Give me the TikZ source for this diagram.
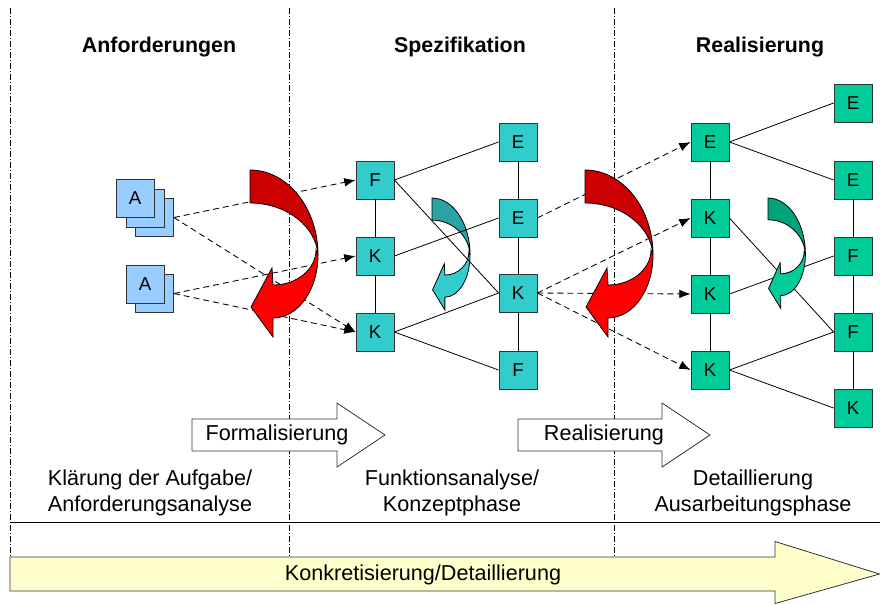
\documentclass[tikz,border=0pt]{standalone}
\usepackage{fontspec}
\setmainfont{Liberation Sans}
\usetikzlibrary{arrows.meta}
\definecolor{reqblue}{HTML}{99CCFF}
\definecolor{specteal}{HTML}{33CCCC}
\definecolor{tealback}{HTML}{29A3A3}
\definecolor{realgreen}{HTML}{00CC99}
\definecolor{greenback}{HTML}{00A37A}
\definecolor{curlback}{HTML}{CC0000}
\definecolor{curlfront}{HTML}{FF0000}
\definecolor{concyellow}{HTML}{FFFFCC}

\begin{document}
\begin{tikzpicture}[x=0.75pt, y=-0.75pt,
    box/.style={rectangle, draw=black!80, line width=0.6pt, minimum size=28.5pt, inner sep=0,
      font=\fontsize{14}{16}\selectfont},
    req/.style={box, fill=reqblue},
    spec/.style={box, fill=specteal},
    real/.style={box, fill=realgreen},
    link/.style={line width=0.6pt},
    flow/.style={line width=0.65pt, dash pattern=on 4.5pt off 3pt, -{Latex[length=8.5pt,width=6.5pt]}},
    border/.style={line width=0.4pt, dash pattern=on 4.5pt off 1.5pt on 0.75pt off 1.5pt},
    blockarrow/.style={draw=black!80, line width=0.6pt},
    title/.style={font=\fontsize{16}{19}\selectfont\bfseries},
    phase/.style={font=\fontsize{16.2}{19.5}\selectfont, align=center},
    pics/curl/.style 2 args={code={
      \filldraw[fill=#1, draw=black, line width=0.6pt] (0,0) .. controls (37.5,0) and (68,38) .. (68,85)
        .. controls (66,56) and (36,33) .. (0,33) -- cycle;
      \filldraw[fill=#2, draw=black, line width=0.6pt] (68,85) .. controls (68,120) and (48,148) .. (23,148)
        -- (23,167) -- (1,137) -- (22,98) -- (23,115) .. controls (47,115) and (66,99) .. (66,80) -- cycle;
    }}
  ]
  \useasboundingbox (0,0) rectangle (880,604);

  % phase borders
  \draw[border] (10,8) -- (10,557);
  \draw[border] (289,8) -- (289,557);
  \draw[border] (614,8) -- (614,557);
  \draw[line width=0.6pt] (10,522) -- (880,522);

  \node[title] (treq) at (159,47) {Anforderungen};
  \node[title] (tspec) at (460,47) {Spezifikation};
  \node[title] (treal) at (760,47) {Realisierung};

  \node[phase] (preq) at (150,493) {Klärung der Aufgabe/\\Anforderungsanalyse};
  \node[phase] (pspec) at (452,493) {Funktionsanalyse/\\Konzeptphase};
  \node[phase] (preal) at (753,493) {Detaillierung\\Ausarbeitungsphase};

  % block arrows
  \filldraw[blockarrow, fill=white] (192,419) -- (337,419) -- (337,403) -- (385,435)
    -- (337,467) -- (337,451) -- (192,451) -- cycle;
  \node[phase] (form) at (277,435) {Formalisierung};
  \filldraw[blockarrow, fill=white] (518,419) -- (662,419) -- (662,403) -- (710,435)
    -- (662,467) -- (662,451) -- (518,451) -- cycle;
  \node[phase] (impl) at (604,435) {Realisierung};
  \filldraw[blockarrow, fill=concyellow] (10,557) -- (775,557) -- (775,541.5) -- (879.5,574)
    -- (775,603.5) -- (775,591) -- (10,591) -- cycle;
  \node[phase] (conc) at (423,575) {Konkretisierung/Detaillierung};

  % requirements
  \node[req] (a1c) at (154.5,217.5) {};
  \node[req] (a1b) at (145,208) {};
  \node[req] (a1a) at (135,198.5) {A};
  \node[req] (a2b) at (154.5,293.5) {};
  \node[req] (a2a) at (145,284) {A};

  % specification
  \node[spec] (sF) at (375,180) {F};
  \node[spec] (sK1) at (375,256) {K};
  \node[spec] (sK2) at (375,332) {K};
  \node[spec] (sE1) at (518,142) {E};
  \node[spec] (sE2) at (518,218) {E};
  \node[spec] (sK3) at (518,293) {K};
  \node[spec] (sF2) at (518,370) {F};

  % realisation
  \node[real] (rE) at (710,142) {E};
  \node[real] (rK1) at (710,218) {K};
  \node[real] (rK2) at (710,294) {K};
  \node[real] (rK3) at (710,370) {K};
  \node[real] (rE1) at (853,103) {E};
  \node[real] (rE2) at (853,180) {E};
  \node[real] (rF1) at (853,256) {F};
  \node[real] (rF2) at (853,332) {F};
  \node[real] (rK) at (853,408) {K};

  \pic[xscale=0.56, yscale=0.67] at (432,198) {curl={tealback}{specteal}};
  \draw[link] (sF) -- (sK1) -- (sK2);
  \draw[link] (sE1) -- (sE2) -- (sK3) -- (sF2);
  \draw[link] (sF.east) -- (sE1.west);
  \draw[link] (sF.east) -- (sK3.west);
  \draw[link] (sK1.east) -- (sE2.west);
  \draw[link] (sK2.east) -- (sK3.west);
  \draw[link] (sK2.east) -- (sF2.west);

  \draw[link] (rE) -- (rK1) -- (rK2) -- (rK3);
  \draw[link] (rE2) -- (rF1) -- (rF2) -- (rK);
  \draw[link] (rE.east) -- (rE1.west);
  \draw[link] (rE.east) -- (rE2.west);
  \draw[link] (rK1.east) -- (rF2.west);
  \draw[link] (rK2.east) -- (rF1.west);
  \draw[link] (rK3.east) -- (rF2.west);
  \draw[link] (rK3.east) -- (rK.west);
  \pic[xscale=0.55, yscale=0.66] at (768,198) {curl={greenback}{realgreen}};

  % formalisation
  \draw[flow] (a1c.east) -- (sF.west);
  \draw[flow] (a1c.east) -- (sK2.west);
  \draw[flow] (a2b.east) -- (sK1.west);
  \draw[flow] (a2b.east) -- (sK2.west);
  \pic at (250,170) {curl={curlback}{curlfront}};

  % realisation
  \draw[flow] (sE2.east) -- (rE.west);
  \draw[flow] (sK3.east) -- (rK1.west);
  \draw[flow] (sK3.east) -- (rK2.west);
  \draw[flow] (sK3.east) -- (rK3.west);
  \pic at (585,170) {curl={curlback}{curlfront}};
\end{tikzpicture}
\end{document}
